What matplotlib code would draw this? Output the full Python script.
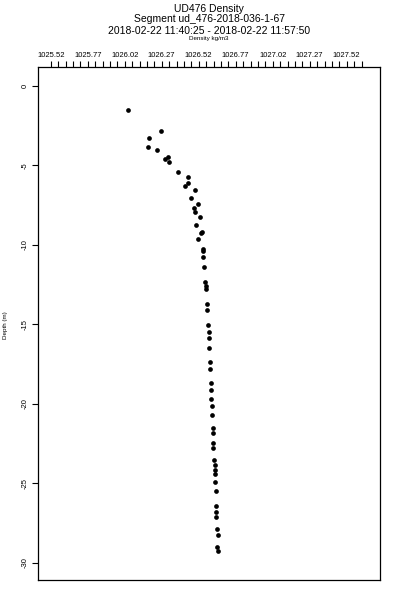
import numpy as np
import matplotlib
matplotlib.use('Agg')
import matplotlib.pyplot as plt
from matplotlib.ticker import FixedLocator

# --- DATA ---

density = [
    1026.044, 1026.263, 1026.182, 1026.175, 1026.236, 1026.294, 1026.313, 1026.319,
    1026.382, 1026.445, 1026.445, 1026.427, 1026.495, 1026.466, 1026.517, 1026.488,
    1026.497, 1026.531, 1026.504, 1026.536, 1026.545, 1026.517, 1026.550, 1026.548,
    1026.550, 1026.559, 1026.564, 1026.566, 1026.566, 1026.577, 1026.577, 1026.584,
    1026.588, 1026.588, 1026.590, 1026.597, 1026.595, 1026.601, 1026.601, 1026.605,
    1026.607, 1026.610, 1026.614, 1026.616, 1026.616, 1026.618, 1026.625, 1026.627,
    1026.627, 1026.627, 1026.632, 1026.634, 1026.638, 1026.640, 1026.640, 1026.646,
    1026.648, 1026.646, 1026.648,
]
depth = [
    -1.51, -2.81, -3.29, -3.86, -4.03, -4.59, -4.47, -4.80,
    -5.39, -5.70, -6.08, -6.31, -6.54, -7.06, -7.40, -7.69,
    -7.91, -8.22, -8.72, -9.26, -9.16, -9.60, -10.25, -10.36,
    -10.73, -11.40, -12.31, -12.58, -12.77, -13.71, -14.09, -15.03,
    -15.45, -15.83, -16.48, -17.34, -17.82, -18.70, -19.12, -19.70,
    -20.13, -20.69, -21.53, -21.84, -22.47, -22.79, -23.52, -23.84,
    -24.15, -24.42, -24.89, -25.45, -26.42, -26.77, -27.13, -27.88,
    -28.24, -28.97, -29.23,
]

x_labels = ['1025.52', '1025.77', '1026.02', '1026.27', '1026.52',
            '1026.77', '1027.02', '1027.27', '1027.52']
y_ticks = [0, -5, -10, -15, -20, -25, -30]

title_lines = ['UD476 Density',
               'Segment ud_476-2018-036-1-67',
               '2018-02-22 11:40:25 - 2018-02-22 11:57:50']

# --- PLOT ---

plt.rcParams['font.family'] = ['Liberation Sans', 'DejaVu Sans']

fig = plt.figure(figsize=(4, 6), dpi=100)
ax = fig.add_axes([38 / 400, 20 / 600, 342 / 400, 513 / 600])

ax.plot(density, depth, 'o', color='black', markersize=3.4, markeredgewidth=0)

ax.set_xlim(1025.434, 1027.745)
ax.set_ylim(-31.07, 1.19)

ax.xaxis.tick_top()
major_x = [float(v) for v in x_labels]
ax.xaxis.set_major_locator(FixedLocator(major_x))
ax.set_xticklabels(x_labels, fontsize=5.5)
minor_x = np.round(np.arange(1025.52, 1027.63, 0.05), 2)
ax.xaxis.set_minor_locator(FixedLocator(minor_x))
ax.tick_params(axis='x', which='both', length=4, width=0.8, pad=2)

ax.set_yticks(y_ticks)
ax.set_yticklabels([str(v) for v in y_ticks], fontsize=5.5, rotation=90, va='center')
ax.tick_params(axis='y', length=4, width=0.8, pad=3)

for s in ax.spines.values():
    s.set_linewidth(0.9)

# axis labels placed like the original (x label sits under the title)
fig.text(6 / 400, 1 - 325 / 600, 'Depth (m)', rotation=90, ha='center', va='center',
         fontsize=4.5)
fig.text(209 / 400, 1 - 38.5 / 600, 'Density kg/m3', ha='center', va='center',
         fontsize=4.5)

for i, line in enumerate(title_lines):
    fig.text(209 / 400, 1 - (8.5 + 11 * i) / 600, line, ha='center', va='center',
             fontsize=7.5)

fig.savefig('out.png', dpi=100)
plt.close(fig)
